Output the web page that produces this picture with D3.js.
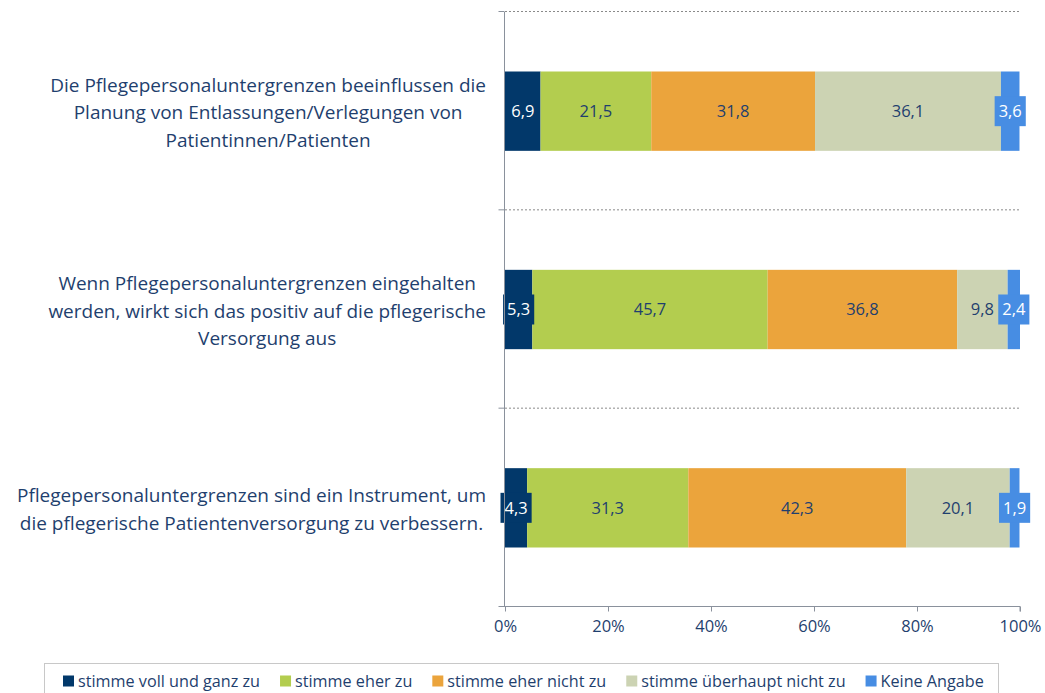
<!DOCTYPE html>
<html>
<head>
<meta charset="utf-8">
<script src="https://cdn.jsdelivr.net/npm/d3@7"></script>
<style>
  body { margin: 0; background: #fff; }
  svg { font-family: "Open Sans", "Noto Sans", sans-serif; }
</style>
</head>
<body>
<svg id="chart" width="1045" height="693"></svg>
<script>
// data
var categories = [
    ["Die Pflegepersonaluntergrenzen beeinflussen die", "Planung von Entlassungen/Verlegungen von", "Patientinnen/Patienten"],
    ["Wenn Pflegepersonaluntergrenzen eingehalten", "werden, wirkt sich das positiv auf die pflegerische", "Versorgung aus"],
    ["Pflegepersonaluntergrenzen sind ein Instrument, um", "die pflegerische Patientenversorgung zu verbessern."]
];
var seriesNames = ["stimme voll und ganz zu", "stimme eher zu", "stimme eher nicht zu", "stimme überhaupt nicht zu", "Keine Angabe"];
var vollUndGanz = [6.9, 5.3, 4.3];
var eherZu = [21.5, 45.7, 31.3];
var eherNicht = [31.8, 36.8, 42.3];
var ueberhauptNicht = [36.1, 9.8, 20.1];
var keineAngabe = [3.6, 2.4, 1.9];
var xTicks = [0, 20, 40, 60, 80, 100];

var colors = ["#02386a", "#b3cd4f", "#eba43c", "#ccd3b3", "#478de3"];
var labelColors = ["#ffffff", "#1f3f6e", "#1f3f6e", "#1f3f6e", "#ffffff"];
var textColor = "#1f3f6e";
var axisColor = "#8a919c";

var svg = d3.select("#chart");
var margin = {top: 12, left: 505, right: 25, bottom: 86};
var width = 1045, height = 693;

var rows = categories.map(function(c, i) {
    return {
        idx: i,
        values: [vollUndGanz[i], eherZu[i], eherNicht[i], ueberhauptNicht[i], keineAngabe[i]]
    };
});

var x = d3.scaleLinear()
    .domain([0, 100])
    .range([margin.left, width - margin.right]);

var y = d3.scaleBand()
    .domain(d3.range(categories.length))
    .range([margin.top, height - margin.bottom])
    .paddingInner(0.6)
    .paddingOuter(0.3);

var step = y.step();

// dotted grid lines at top of each band
svg.selectAll(".grid")
    .data(d3.range(categories.length))
    .enter().append("line")
    .attr("x1", x(0)).attr("x2", x(100))
    .attr("y1", function(d) { return y(d) - step * 0.3 - 0.5; })
    .attr("y2", function(d) { return y(d) - step * 0.3 - 0.5; })
    .attr("stroke", "#8a8a8a")
    .attr("stroke-width", 1)
    .attr("stroke-dasharray", "2,2");

// stacked bars
var stackData = rows.map(function(r) {
    var acc = 0;
    return r.values.map(function(v, k) {
        var s = {row: r.idx, k: k, v: v, x0: acc, x1: acc + v};
        acc += v;
        return s;
    });
});
var segs = [].concat.apply([], stackData);

svg.append("g").selectAll("rect")
    .data(segs)
    .enter().append("rect")
    .attr("x", function(d) { return x(d.x0); })
    .attr("width", function(d) { return x(d.x1) - x(d.x0); })
    .attr("y", function(d) { return y(d.row); })
    .attr("height", y.bandwidth())
    .attr("fill", function(d) { return colors[d.k]; });

// value labels with boxes
var lab = svg.append("g").selectAll("g")
    .data(segs)
    .enter().append("g")
    .attr("transform", function(d) {
        return "translate(" + ((x(d.x0) + x(d.x1)) / 2) + "," + (y(d.row) + y.bandwidth() / 2) + ")";
    });

lab.append("rect").attr("class", "box");
lab.append("text")
    .attr("text-anchor", "middle")
    .attr("dy", "0.35em")
    .attr("font-size", 16.5)
    .attr("fill", function(d) { return labelColors[d.k]; })
    .text(function(d) { return d3.format(".1f")(d.v).replace(".", ","); });

lab.each(function(d) {
    var g = d3.select(this);
    var w = g.select("text").node().getComputedTextLength() + 8;
    var segW = x(d.x1) - x(d.x0);
    if (w > segW) {
        g.select("rect.box")
            .attr("x", -w / 2).attr("width", w)
            .attr("y", -15).attr("height", 30)
            .attr("fill", colors[d.k]);
    } else {
        g.select("rect.box").remove();
    }
});

// axes
var bottomY = height - margin.bottom - 0.5;
var xAxis = d3.axisBottom(x)
    .tickValues(xTicks)
    .tickSize(5)
    .tickFormat(function(d) { return d + "%"; });

var gx = svg.append("g")
    .attr("transform", "translate(0," + bottomY + ")")
    .call(xAxis);
gx.select(".domain").attr("stroke", axisColor).attr("d", "M" + x(0) + ",0H" + x(100) + "V5");
gx.selectAll(".tick line").attr("stroke", axisColor);
gx.selectAll(".tick text")
    .attr("fill", textColor)
    .attr("font-size", 16.5)
    .attr("font-family", "'Open Sans', sans-serif")
    .attr("y", 20)
    .attr("dy", "0.35em");

// left axis line with ticks at band boundaries
var leftX = x(0) - 0.5;
svg.append("line")
    .attr("x1", leftX).attr("x2", leftX)
    .attr("y1", margin.top).attr("y2", height - margin.bottom)
    .attr("stroke", axisColor);
var bounds = d3.range(categories.length + 1).map(function(i) { return margin.top + i * step - 0.5; });
svg.selectAll(".ltick")
    .data(bounds)
    .enter().append("line")
    .attr("x1", leftX - 6).attr("x2", leftX)
    .attr("y1", function(d) { return d; })
    .attr("y2", function(d) { return d; })
    .attr("stroke", axisColor);

// category labels: block right-aligned, lines centred within block
var lineH = 27.5;
var catG = svg.append("g").selectAll("text")
    .data(categories)
    .enter().append("text")
    .attr("font-size", 19)
    .attr("fill", textColor)
    .attr("text-anchor", "middle");

catG.each(function(lines, i) {
    var t = d3.select(this);
    var cy = y(i) + y.bandwidth() / 2 + 1.5;
    var start = cy - (lines.length - 1) * lineH / 2;
    lines.forEach(function(l, j) {
        t.append("tspan").attr("y", start + j * lineH).attr("dy", "0.35em").text(l);
    });
    var maxW = 0;
    t.selectAll("tspan").each(function() {
        maxW = Math.max(maxW, this.getComputedTextLength());
    });
    t.selectAll("tspan").attr("x", 486 - maxW / 2);
});

// legend
var legend = svg.append("g");
legend.append("rect")
    .attr("x", 44.5).attr("y", 663.5)
    .attr("width", 954).attr("height", 40)
    .attr("fill", "none")
    .attr("stroke", "#c8c8c8");

var lx = 63;
seriesNames.forEach(function(name, k) {
    var item = legend.append("g").attr("transform", "translate(" + lx + ",681)");
    item.append("rect")
        .attr("x", 0).attr("y", -5.5)
        .attr("width", 11).attr("height", 11)
        .attr("fill", colors[k]);
    var t = item.append("text")
        .attr("x", 15).attr("dy", "0.35em")
        .attr("font-size", 16.2)
        .attr("fill", textColor)
        .text(name);
    lx += 15 + t.node().getComputedTextLength() + 20;
});
</script>
</body>
</html>
